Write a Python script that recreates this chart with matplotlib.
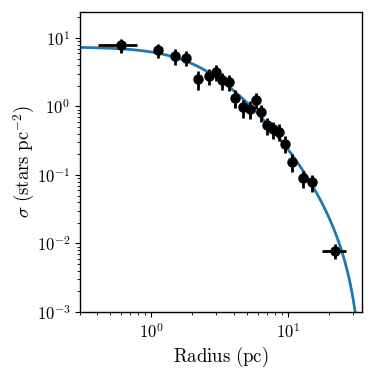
import numpy as np
import matplotlib
matplotlib.use("Agg")
import matplotlib.pyplot as plt

plt.rcParams['mathtext.fontset'] = 'cm'
plt.rcParams['font.family'] = 'serif'
plt.rcParams['font.serif'] = ['cmr10', 'DejaVu Serif']
plt.rcParams['axes.formatter.use_mathtext'] = True

# Measured surface density profile
radius = [0.594, 1.11, 1.48, 1.79, 2.21, 2.64, 2.98, 3.32, 3.73, 4.13, 4.72,
          5.31, 5.81, 6.32, 7.03, 7.77, 8.60, 9.5, 10.8, 13.0, 15.1, 22.1]
sigma = [7.9, 6.68, 5.46, 5.15, 2.52, 2.79, 3.19, 2.41, 2.28, 1.34, 0.97,
         0.92, 1.26, 0.82, 0.53, 0.47, 0.43, 0.286, 0.156, 0.0895, 0.078, 0.0078]
sigma_err = [1.8, 1.6, 1.4, 1.3, 0.75, 0.75, 0.8, 0.65, 0.6, 0.38, 0.28,
             0.27, 0.33, 0.22, 0.15, 0.13, 0.12, 0.08, 0.045, 0.025, 0.021, 0.0019]
radius_err = [0.19, 0, 0, 0, 0, 0, 0, 0, 0, 0, 0,
              0, 0, 0, 0, 0, 0, 0, 0, 0, 0, 4.4]

# King-profile fit parameters
king_k = 8.5
king_rc = 2.4
king_rt = 36.3

r_model = np.logspace(np.log10(0.3), np.log10(king_rt), 600)
model = king_k * (1 / np.sqrt(1 + (r_model / king_rc) ** 2)
                  - 1 / np.sqrt(1 + (king_rt / king_rc) ** 2)) ** 2

fig = plt.figure(figsize=(3.74, 3.74), dpi=100)
ax = fig.add_axes([0.214, 0.166, 0.754, 0.802])

ax.plot(r_model, model, color='#1f77b4', lw=2, zorder=2)
ax.errorbar(radius, sigma, yerr=sigma_err, xerr=radius_err, fmt='o',
            color='black', ms=6.5, elinewidth=2, capsize=0, zorder=3)

ax.set_xscale('log')
ax.set_yscale('log')
ax.set_xlim(0.3, 35)
ax.set_ylim(1e-3, 24)
ax.set_xlabel(r'$\mathrm{Radius\ (pc)}$', fontsize=13.5, labelpad=3)
ax.set_ylabel(r'$\sigma\ (\mathrm{stars\ pc}^{-2})$', fontsize=13.5, labelpad=0)
ax.tick_params(labelsize=12)
for s in ax.spines.values():
    s.set_linewidth(1.0)

fig.savefig('out.png', dpi=100)
